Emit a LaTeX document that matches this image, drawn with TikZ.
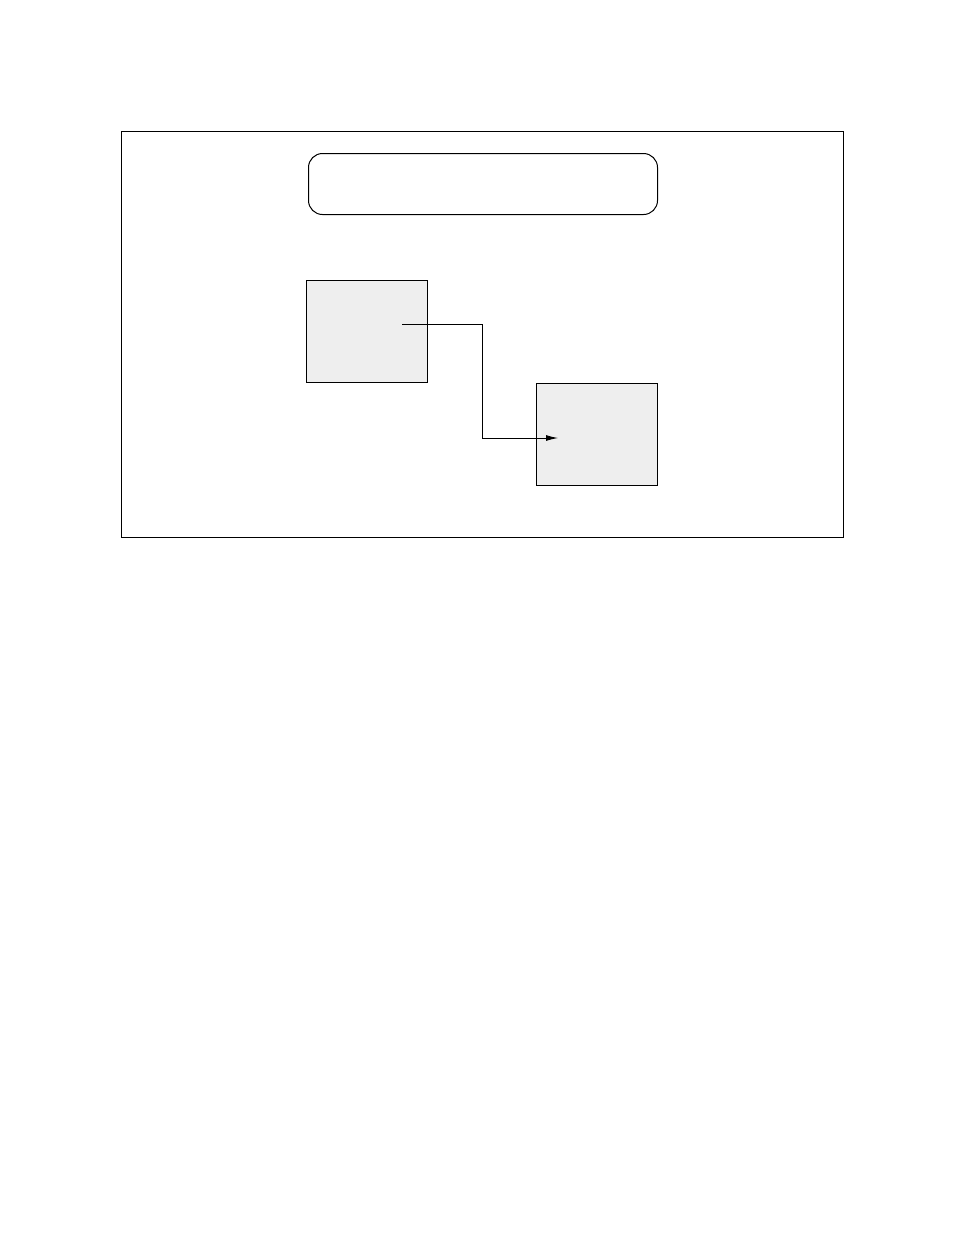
\documentclass[tikz,border=0pt]{standalone}
\usetikzlibrary{arrows.meta}
\definecolor{boxgray}{HTML}{EEEEEE}
\begin{document}
\begin{tikzpicture}[x=1pt, y=-1pt,
    frame/.style={draw, line width=1pt},
    box/.style={draw, line width=0.9pt, fill=boxgray, inner sep=0pt,
        minimum width=121pt, minimum height=102pt, anchor=north west}]

\useasboundingbox (0,0) rectangle (954,1235);

% 外框
\draw[frame] (121,131) rectangle (843,537);

% 上方:圆角矩形
\node[frame, rounded corners=14pt, inner sep=0pt, anchor=north west,
    minimum width=349pt, minimum height=61pt] (title) at (308,153) {};

% 左上与右下:两个灰色方框
\node[box] (boxA) at (306,280) {};
\node[box] (boxB) at (536,383) {};

% 连线
\coordinate (src) at (402,324);
\coordinate (dst) at (558,438);
\draw[line width=0.9pt, -{Latex[length=12pt, width=6pt]}] (src) -- ++(80,0) |- (dst);

\end{tikzpicture}
\end{document}
